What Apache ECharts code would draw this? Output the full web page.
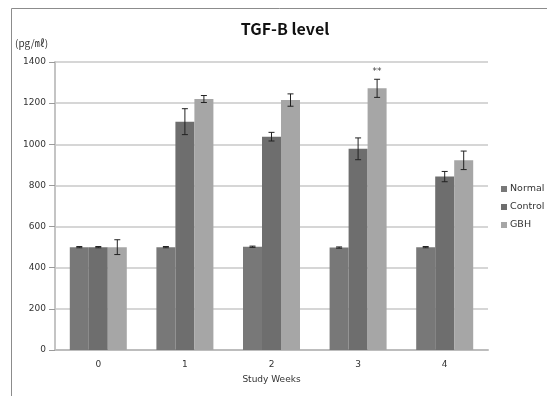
<!DOCTYPE html>
<html>
<head>
<meta charset="utf-8">
<script src="https://cdn.jsdelivr.net/npm/echarts@6/dist/echarts.min.js"></script>
<style>
  html, body { margin: 0; padding: 0; background: #fff; }
  #chart { width: 547px; height: 396px; }
</style>
</head>
<body>
<div id="chart"></div>
<script>
// study weeks
var weeks = ['0', '1', '2', '3', '4']
var seriesNames = ['Normal', 'Control', 'GBH']

// means (pg/ml)
var normal = [500, 500, 502, 498, 500]
var control = [500, 1110, 1037, 978, 843]
var gbh = [500, 1220, 1215, 1272, 922]

// standard errors
var normalErr = [3, 3, 3, 3, 3]
var controlErr = [3, 63, 21, 53, 25]
var gbhErr = [36, 17, 30, 44, 45]

// significance marks above GBH bars
var gbhMarks = ['', '', '', '**', '']

var yTicks = [0, 200, 400, 600, 800, 1000, 1200, 1400]

var colors = ['#787878', '#6e6e6e', '#a6a6a6']
var BAR_W = 19

var values = [normal, control, gbh]
var errs = [normalErr, controlErr, gbhErr]
var marks = [['', '', '', '', ''], ['', '', '', '', ''], gbhMarks]

var errData = []
values.forEach(function (vals, s) {
  vals.forEach(function (v, i) {
    errData.push([i, s, v - errs[s][i], v + errs[s][i], marks[s][i]])
  })
})

var chart = echarts.init(document.getElementById('chart'))

var options = {
  animation: false,
  textStyle: { fontFamily: 'DejaVu Sans' },
  graphic: [{
    type: 'polyline',
    shape: { points: [[11.5, 400], [11.5, 8.5], [560, 8.5]] },
    style: { stroke: '#8c8c8c', lineWidth: 1, fill: null }
  }, {
    type: 'text',
    left: 15,
    top: 38,
    style: { text: '(pg/㎖)', font: '10px "Noto Sans CJK KR"', fill: '#333' }
  }],
  title: {
    text: 'TGF-B level',
    left: 280,
    top: 16,
    textAlign: 'center',
    textStyle: { fontFamily: 'Noto Sans CJK KR', fontSize: 16, fontWeight: 'bold', color: '#111' }
  },
  legend: {
    orient: 'vertical',
    left: 496,
    top: 179,
    itemWidth: 6,
    itemHeight: 6,
    itemGap: 8,
    icon: 'rect',
    data: seriesNames,
    textStyle: { fontSize: 9.5, color: '#333', padding: [0, 0, 0, -2] }
  },
  grid: { left: 55, right: 59, top: 62, bottom: 46 },
  xAxis: {
    type: 'category',
    data: weeks,
    name: 'Study Weeks',
    nameLocation: 'middle',
    nameGap: 25,
    nameTextStyle: { fontSize: 9, color: '#333' },
    axisLine: { lineStyle: { color: '#bdbdbd', width: 2 } },
    axisTick: { length: 4, lineStyle: { color: '#9a9a9a' } },
    axisLabel: { fontSize: 9, color: '#333', margin: 10 }
  },
  yAxis: {
    type: 'value',
    min: yTicks[0],
    max: yTicks[yTicks.length - 1],
    interval: 200,
    axisLine: { show: true, lineStyle: { color: '#c4c4c4', width: 2 } },
    axisTick: { show: true, length: 6, lineStyle: { color: '#9a9a9a' } },
    axisLabel: { fontSize: 9, color: '#333', margin: 9, formatter: function (v) { return String(v) } },
    splitLine: { lineStyle: { color: '#c8c8c8', width: 1.5 } }
  },
  series: seriesNames.map(function (name, s) {
    return {
      name: name,
      type: 'bar',
      data: values[s],
      barWidth: BAR_W,
      barGap: '0%',
      itemStyle: { color: colors[s] }
    }
  }).concat([{
    type: 'custom',
    name: 'err',
    data: errData,
    z: 10,
    renderItem: function (params, api) {
      var i = api.value(0)
      var s = api.value(1)
      var off = (s - 1) * BAR_W
      var lo = api.coord([i, api.value(2)])
      var hi = api.coord([i, api.value(3)])
      var x = lo[0] + off
      var cap = 3
      var st = { stroke: '#222', lineWidth: 1 }
      var children = [
        { type: 'line', shape: { x1: x, y1: hi[1], x2: x, y2: lo[1] }, style: st },
        { type: 'line', shape: { x1: x - cap, y1: hi[1], x2: x + cap, y2: hi[1] }, style: st },
        { type: 'line', shape: { x1: x - cap, y1: lo[1], x2: x + cap, y2: lo[1] }, style: st }
      ]
      var mark = errData[params.dataIndex][4]
      if (mark) {
        children.push({
          type: 'text',
          style: { text: mark, x: x, y: hi[1] - 3, align: 'center', verticalAlign: 'bottom', font: '9px "DejaVu Sans"', fill: '#444' }
        })
      }
      return { type: 'group', children: children }
    }
  }])
}

chart.setOption(options)
</script>
</body>
</html>
